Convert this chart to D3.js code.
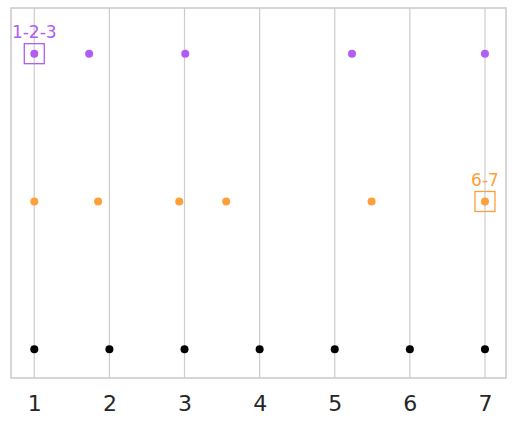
<!DOCTYPE html>
<html><head><meta charset="utf-8">
<script src="https://cdn.jsdelivr.net/npm/d3@7"></script>
<style>body{margin:0;background:#fff}svg{display:block}</style>
</head><body>
<svg id="c" width="517" height="425"></svg>
<script>
const xTicks = [1,2,3,4,5,6,7];
const blackX = [1,2,3,4,5,6,7];
const orangeX = [1,1.85,2.93,3.555,5.49,7];
const purpleX = [1,1.73,3.01,5.23,7];
const rows = [
  {name:"black", y:0, xs:blackX, color:"#000000"},
  {name:"orange", y:1, xs:orangeX, color:"#ff9f3a"},
  {name:"purple", y:2, xs:purpleX, color:"#b05cf6"}
];
const annotations = [
  {label:"1-2-3", x:1, y:2, color:"#b05cf6"},
  {label:"6-7", x:7, y:1, color:"#ff9f3a"}
];

const svg = d3.select("#c");
const L=11, R=506, T=8, B=378;
const x = d3.scaleLinear().domain([0.69,7.28]).range([L,R]);
const y = d3.scaleLinear().domain([-0.194,2.309]).range([B,T]);

// grid
svg.append("g").selectAll("line").data(xTicks).join("line")
  .attr("x1",d=>x(d)).attr("x2",d=>x(d)).attr("y1",T).attr("y2",B)
  .attr("stroke","#cccccc").attr("stroke-width",1.2);

// frame
svg.append("rect").attr("x",L).attr("y",T).attr("width",R-L).attr("height",B-T)
  .attr("fill","none").attr("stroke","#cccccc").attr("stroke-width",1.6);

// axis
const ax = svg.append("g").attr("transform",`translate(0,${B})`)
  .call(d3.axisBottom(x).tickValues(xTicks).tickSize(0).tickPadding(0).tickFormat(d3.format("d")));
ax.select(".domain").remove();
ax.selectAll("text").attr("y",33).attr("dy",0)
  .attr("font-family","DejaVu Sans").attr("font-size",22).attr("fill","#262626");

// points
rows.forEach(r=>{
  svg.append("g").selectAll("circle").data(r.xs).join("circle")
    .attr("cx",d=>x(d)).attr("cy",y(r.y)).attr("r",4).attr("fill",r.color);
});

// annotations
annotations.forEach(a=>{
  svg.append("rect").attr("x",x(a.x)-10).attr("y",y(a.y)-10).attr("width",20).attr("height",20)
    .attr("fill","none").attr("stroke",a.color).attr("stroke-width",1.3);
  svg.append("text").attr("x",x(a.x)).attr("y",y(a.y)-15.5).attr("text-anchor","middle")
    .attr("font-family","DejaVu Sans").attr("font-size",17).attr("fill",a.color).text(a.label);
});
</script>
</body></html>
